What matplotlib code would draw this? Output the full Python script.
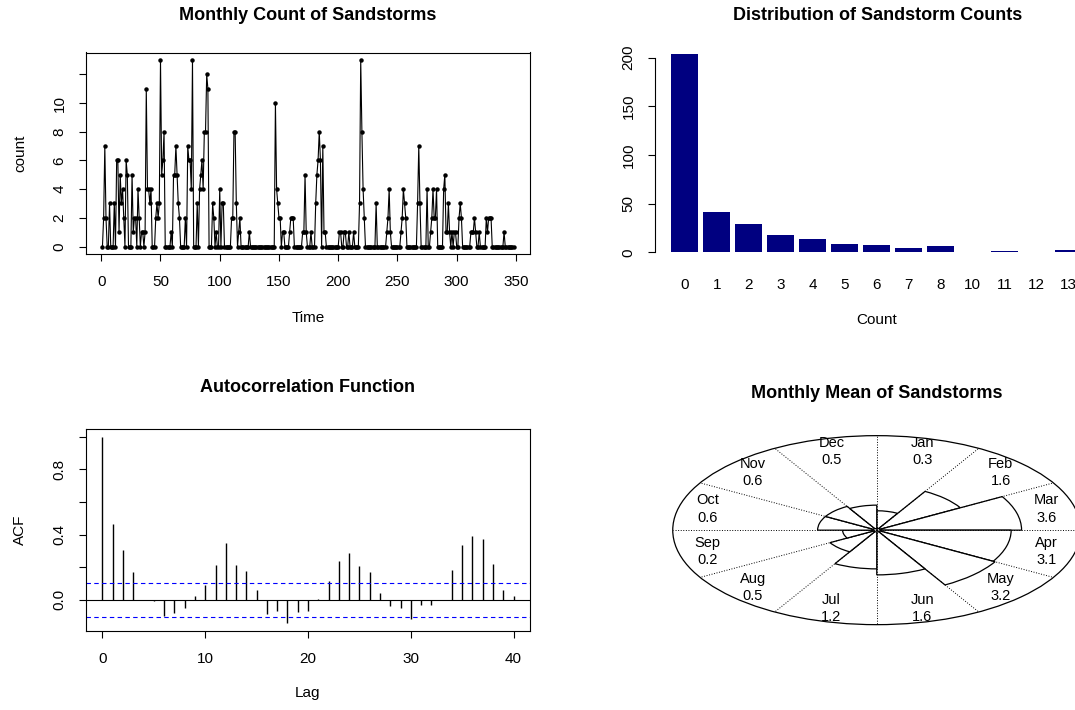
import numpy as np
import matplotlib
matplotlib.use('Agg')
import matplotlib.pyplot as plt
from matplotlib.patches import Wedge, Circle, Ellipse

plt.rcParams['font.family'] = ['Liberation Sans', 'DejaVu Sans']

# monthly sandstorm counts, one row per year (Jan..Dec)
counts = [
    0, 2, 7, 2, 0, 0, 3, 0, 0, 0, 3, 0,
    6, 6, 1, 5, 3, 4, 2, 0, 6, 5, 0, 0,
    0, 5, 1, 2, 2, 0, 4, 2, 0, 1, 1, 0,
    1, 11, 4, 4, 3, 4, 0, 0, 0, 2, 3, 2,
    3, 13, 5, 6, 8, 0, 0, 0, 0, 0, 1, 0,
    5, 5, 7, 5, 3, 2, 0, 0, 0, 0, 2, 0,
    7, 6, 6, 4, 13, 0, 0, 0, 3, 0, 4, 5,
    6, 4, 8, 8, 12, 11, 0, 0, 0, 3, 2, 0,
    1, 0, 0, 4, 0, 3, 3, 0, 0, 0, 0, 0,
    0, 2, 2, 8, 8, 3, 0, 1, 2, 0, 0, 0,
    0, 0, 0, 0, 1, 0, 0, 0, 0, 0, 0, 0,
    0, 0, 0, 0, 0, 0, 0, 0, 0, 0, 0, 0,
    0, 0, 10, 4, 3, 2, 2, 0, 1, 1, 0, 0,
    0, 0, 1, 2, 2, 2, 0, 0, 0, 0, 0, 0,
    0, 1, 1, 5, 1, 0, 0, 0, 1, 0, 0, 0,
    3, 5, 6, 8, 6, 0, 7, 1, 1, 0, 0, 0,
    0, 0, 0, 0, 0, 0, 0, 0, 1, 1, 0, 0,
    1, 1, 0, 0, 1, 0, 0, 0, 1, 0, 0, 0,
    0, 3, 13, 8, 4, 2, 0, 0, 0, 0, 0, 0,
    0, 0, 0, 3, 0, 0, 0, 0, 0, 0, 0, 0,
    1, 2, 4, 1, 0, 0, 0, 0, 0, 0, 0, 0,
    1, 2, 4, 3, 2, 0, 0, 0, 0, 0, 0, 0,
    0, 0, 3, 7, 3, 0, 0, 0, 0, 0, 4, 0,
    0, 1, 2, 4, 2, 2, 4, 0, 0, 0, 0, 0,
    4, 5, 1, 1, 3, 1, 0, 1, 0, 1, 1, 0,
    0, 2, 3, 2, 0, 0, 0, 0, 0, 0, 0, 1,
    1, 1, 2, 1, 0, 0, 1, 0, 0, 0, 0, 0,
    2, 1, 2, 2, 2, 0, 0, 0, 0, 0, 0, 0,
    0, 0, 0, 1, 0, 0, 0, 0, 0, 0, 0, 0,
]

# frequency table of the counts
count_levels = ['0', '1', '2', '3', '4', '5', '6', '7', '8', '10', '11', '12', '13']
count_freq = [204, 41, 29, 18, 14, 9, 7, 4, 6, 0, 1, 0, 2]

# sample autocorrelation, lags 0..40
acf_vals = [1.0, 0.467, 0.306, 0.169, 0.0, -0.01, -0.096, -0.078, -0.047, 0.024,
            0.094, 0.214, 0.351, 0.216, 0.178, 0.059, -0.088, -0.071, -0.145, -0.076,
            -0.067, 0.006, 0.116, 0.241, 0.288, 0.208, 0.173, 0.045, -0.035, -0.051,
            -0.12, -0.029, -0.033, 0.0, 0.182, 0.335, 0.392, 0.376, 0.22, 0.061,
            0.024]
acf_ci = 0.105

months = ['Jan', 'Feb', 'Mar', 'Apr', 'May', 'Jun',
          'Jul', 'Aug', 'Sep', 'Oct', 'Nov', 'Dec']
month_means = [0.3, 1.6, 3.6, 3.1, 3.2, 1.6, 1.2, 0.5, 0.2, 0.6, 0.6, 0.5]

W, H = 1075, 710


def box(left, top, right, bottom):
    return [left / W, 1 - bottom / H, (right - left) / W, (bottom - top) / H]


def ftext(x, y, s, **kw):
    fig.text(x / W, 1 - y / H, s, ha='center', va='center', **kw)


fig = plt.figure(figsize=(W / 100, H / 100), dpi=100)

tick_kw = dict(direction='out', length=5, width=0.8, labelsize=11, pad=9)

# --- time series
ax = fig.add_axes(box(86, 52.5, 530, 254))
t = np.arange(1, len(counts) + 1)
ax.plot(t, counts, color='black', lw=0.8, marker='o', ms=2.2)
ax.set_xlim(-12.88, 361.88)
ax.set_ylim(-0.52, 13.52)
ax.set_xticks(np.arange(0, 351, 50))
ax.set_yticks(np.arange(0, 13, 2), ['0', '2', '4', '6', '8', '10', ''],
              rotation=90, va='center')
ax.tick_params(**tick_kw)
ax.tick_params(axis='x', pad=10)
for s in ax.spines.values():
    s.set_linewidth(0.8)
ftext(308, 16, 'Monthly Count of Sandstorms', fontsize=13, fontweight='bold')
ftext(308, 318, 'Time', fontsize=11)
ftext(20, 153, 'count', fontsize=11, rotation=90)

# --- bar chart of counts (right part runs off the page edge)
ax = fig.add_axes(box(655, 52.5, 1098.5, 254))
pos = np.arange(len(count_levels))
ax.bar(pos, count_freq, width=0.83, color='#000080', edgecolor='none')
ax.set_xlim(-0.93, 12.93)
ax.set_ylim(-1.75, 205.2)
for side in ['top', 'right', 'bottom']:
    ax.spines[side].set_visible(False)
ax.spines['left'].set_bounds(0, 200)
ax.spines['left'].set_linewidth(0.8)
ax.set_yticks([0, 50, 100, 150, 200], ['0', '50', '100', '150', '200'],
              rotation=90, va='center')
ax.set_xticks(pos, count_levels)
ax.tick_params(**tick_kw)
ax.tick_params(axis='x', length=0, pad=17)
ftext(878, 16, 'Distribution of Sandstorm Counts', fontsize=13, fontweight='bold')
ftext(877, 320, 'Count', fontsize=11)

# --- autocorrelation
ax = fig.add_axes(box(86, 429.3, 530, 631))
lags = np.arange(len(acf_vals))
ax.vlines(lags, 0, acf_vals, color='black', lw=1)
ax.axhline(0, color='black', lw=0.8)
ax.axhline(acf_ci, color='blue', lw=0.8, ls=(0, (4, 3)))
ax.axhline(-acf_ci, color='blue', lw=0.8, ls=(0, (4, 3)))
ax.set_xlim(-1.6, 41.6)
ax.set_ylim(-0.191, 1.046)
ax.set_xticks([0, 10, 20, 30, 40])
ax.set_yticks(np.arange(0, 1.01, 0.2), ['0.0', '', '0.4', '', '0.8', ''],
              rotation=90, va='center')
ax.tick_params(**tick_kw)
ax.tick_params(axis='x', pad=10)
for s in ax.spines.values():
    s.set_linewidth(0.8)
ftext(308, 387, 'Autocorrelation Function', fontsize=13, fontweight='bold')
ftext(308, 693, 'Lag', fontsize=11)
ftext(20, 530, 'ACF', fontsize=11, rotation=90)

# --- rose of monthly means (unit circle stretched to the panel)
ax = fig.add_axes(box(655, 429.3, 1098.5, 631))
ax.set_xlim(-221.75 / 204, 221.75 / 204)
ax.set_ylim(-100.85 / 94.5, 100.85 / 94.5)
ax.axis('off')
ax.add_patch(Ellipse((0, 0), 2, 2, fill=False, lw=0.9, color='black'))
for k in range(12):
    a = np.deg2rad(k * 30)
    ax.plot([0, np.cos(a)], [0, np.sin(a)], color='black', lw=0.7, ls=':')
scale = 0.71 / np.sqrt(max(month_means))
for i, (m, v) in enumerate(zip(months, month_means)):
    hi = 90 - 30 * i
    ax.add_patch(Wedge((0, 0), scale * np.sqrt(v), hi - 30, hi,
                       facecolor='white', edgecolor='black', lw=0.9))
    mid = np.deg2rad(hi - 15)
    ax.text(0.86 * np.cos(mid), 0.86 * np.sin(mid), f'{m}\n{v}',
            ha='center', va='center', fontsize=10.5, linespacing=1.3)
ax.add_patch(Circle((0, 0), 0.018, facecolor='white', edgecolor='black', lw=0.8))
ftext(877, 393, 'Monthly Mean of Sandstorms', fontsize=13, fontweight='bold')

fig.savefig('out.png', dpi=100)
